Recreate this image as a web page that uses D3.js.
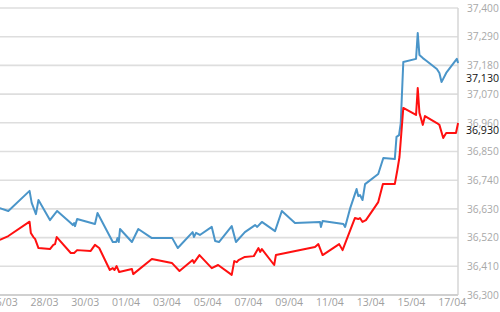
<!DOCTYPE html>
<html><head><meta charset="utf-8">
<script src="https://cdn.jsdelivr.net/npm/d3@7"></script>
<style>
html,body{margin:0;padding:0;background:#fff;}
svg{display:block;}
</style></head>
<body>
<svg id="chart" width="500" height="312"></svg>
<script>
// ---- data ----
const blueTimes = ["03-25 20:00","03-26 06:00","03-27 07:00","03-27 09:30","03-27 14:30","03-27 17:30","03-28 07:00","03-28 15:30","03-29 07:30","03-29 10:00","03-29 11:30","03-29 12:30","03-29 15:00","03-30 12:00","03-30 15:00","03-31 09:00","03-31 13:00","03-31 14:30","03-31 16:00","03-31 17:30","04-01 07:30","04-01 15:00","04-02 07:00","04-03 07:00","04-03 13:30","04-04 07:00","04-04 08:30","04-04 11:00","04-04 15:30","04-05 05:30","04-05 09:30","04-05 14:00","04-06 05:00","04-06 10:00","04-06 20:30","04-07 08:30","04-07 11:00","04-07 16:30","04-08 08:00","04-08 16:00","04-09 07:30","04-10 13:00","04-10 14:00","04-10 16:00","04-11 16:30","04-11 18:30","04-12 00:30","04-12 08:00","04-12 10:00","04-12 12:00","04-12 15:00","04-12 18:00","04-13 09:30","04-13 15:30","04-14 05:00","04-14 07:00","04-14 10:00","04-14 12:00","04-14 15:00","04-15 06:00","04-15 08:00","04-15 10:00","04-15 14:00","04-15 18:30","04-16 06:30","04-16 09:30","04-16 12:00","04-16 17:30","04-17 06:00","04-17 07:30"];
const blueValues = [36633,36622,36699,36653,36610,36664,36587,36622,36576,36568,36576,36564,36591,36572,36614,36503,36503,36518,36503,36553,36503,36553,36518,36518,36480,36541,36522,36538,36530,36561,36507,36503,36564,36503,36541,36568,36561,36580,36545,36622,36576,36580,36561,36584,36572,36561,36633,36706,36679,36683,36664,36725,36764,36825,36821,36906,36913,36959,37193,37205,37304,37220,37208,37197,37166,37151,37116,37151,37205,37189];

const redTimes = ["03-25 20:00","03-26 06:00","03-27 07:00","03-27 08:30","03-27 11:30","03-27 13:30","03-27 17:30","03-28 07:00","03-28 11:00","03-28 13:00","03-28 15:00","03-29 07:30","03-29 11:30","03-29 15:00","03-30 07:00","03-30 12:00","03-30 17:00","03-31 05:30","03-31 09:00","03-31 11:00","03-31 13:30","03-31 16:30","04-01 07:30","04-01 09:00","04-02 07:00","04-03 06:30","04-03 15:30","04-04 07:00","04-04 08:30","04-04 15:00","04-05 05:30","04-05 13:00","04-06 05:00","04-06 08:00","04-06 11:00","04-06 13:00","04-06 20:30","04-07 07:00","04-07 12:30","04-07 14:30","04-07 16:30","04-08 07:00","04-08 09:00","04-10 07:00","04-10 11:00","04-10 16:00","04-11 11:30","04-11 15:30","04-12 06:00","04-12 10:00","04-12 12:00","04-12 15:00","04-12 19:00","04-13 05:30","04-13 09:30","04-13 15:00","04-14 05:00","04-14 08:00","04-14 10:30","04-14 15:00","04-15 06:00","04-15 08:00","04-15 10:00","04-15 14:00","04-15 16:30","04-16 06:30","04-16 09:30","04-16 14:00","04-16 17:30","04-17 05:00","04-17 07:30"];
const redValues = [36511,36526,36581,36538,36522,36515,36480,36476,36492,36495,36522,36461,36461,36472,36469,36492,36480,36396,36403,36396,36411,36388,36400,36380,36438,36423,36392,36434,36423,36453,36403,36415,36377,36430,36426,36434,36446,36449,36480,36465,36476,36415,36453,36484,36495,36453,36495,36472,36595,36591,36595,36580,36587,36637,36656,36725,36725,36779,36829,37017,36990,37093,36998,36952,36986,36959,36952,36902,36921,36921,36959];

const yTickValues = [36300,36410,36520,36630,36740,36850,36960,37070,37180,37290,37400];
const xTickLabels = ["26/03","28/03","30/03","01/04","03/04","05/04","07/04","09/04","11/04","13/04","15/04","17/04"];
const lastLabels = [37130, 36930];
const year = 2024;

// ---- chart ----
const plot = {left: 0, right: 458, top: 8, bottom: 295};
const parse = d3.timeParse("%Y-%m-%d %H:%M");
const parseDay = d3.timeParse("%Y-%d/%m");
const toDate = s => parse(year + "-" + s);

const blue = blueTimes.map((t, i) => ({t: toDate(t), v: blueValues[i]}));
const red = redTimes.map((t, i) => ({t: toDate(t), v: redValues[i]}));

const x = d3.scaleTime()
  .domain([toDate("03-25 20:12"), toDate("04-17 07:24")])
  .range([plot.left, plot.right]);
const y = d3.scaleLinear()
  .domain([yTickValues[0], yTickValues[yTickValues.length - 1]])
  .range([plot.bottom, plot.top]);

const svg = d3.select("#chart");
const fmt = d3.format(",");

// grid lines
svg.append("g").selectAll("line").data(yTickValues.slice(1)).join("line")
  .attr("x1", plot.left).attr("x2", plot.right)
  .attr("y1", d => y(d)).attr("y2", d => y(d))
  .attr("stroke", "#dedede").attr("stroke-width", 1.6);

// right border and bottom axis line
svg.append("line").attr("x1", plot.right).attr("x2", plot.right)
  .attr("y1", plot.top).attr("y2", plot.bottom)
  .attr("stroke", "#d6d6d6").attr("stroke-width", 1.5);
svg.append("line").attr("x1", plot.left).attr("x2", plot.right)
  .attr("y1", plot.bottom).attr("y2", plot.bottom)
  .attr("stroke", "#d0d0d0").attr("stroke-width", 2);

// y tick labels (right)
const yAxis = d3.axisRight(y).tickValues(yTickValues).tickFormat(fmt).tickSize(0).tickPadding(0);
const gy = svg.append("g").attr("transform", `translate(${plot.right + 9},0)`).call(yAxis);
gy.select(".domain").remove();
gy.selectAll("text").attr("fill", "#a8a8a8").attr("font-family", "'Open Sans', sans-serif").attr("font-size", 10.2);

// x tick labels
const xDates = xTickLabels.map(s => parseDay(year + "-" + s));
const xAxis = d3.axisBottom(x).tickValues(xDates).tickFormat(d3.timeFormat("%d/%m")).tickSize(0).tickPadding(0);
const gx = svg.append("g").attr("transform", `translate(0,${plot.bottom + 11})`).call(xAxis);
gx.select(".domain").remove();
gx.selectAll("text").attr("fill", "#a0a0a0").attr("font-family", "'Open Sans', sans-serif").attr("font-size", 10.5).attr("dy", "0");

// clip
svg.append("clipPath").attr("id", "clip").append("rect")
  .attr("x", plot.left).attr("y", 0).attr("width", plot.right - plot.left + 1).attr("height", plot.bottom);

const line = d3.line().x(d => x(d.t)).y(d => y(d.v));
const lines = svg.append("g").attr("clip-path", "url(#clip)");
lines.append("path").datum(blue).attr("d", line)
  .attr("fill", "none").attr("stroke", "#4a95c9").attr("stroke-width", 2).attr("stroke-linejoin", "round");
lines.append("path").datum(red).attr("d", line)
  .attr("fill", "none").attr("stroke", "#ff1010").attr("stroke-width", 2).attr("stroke-linejoin", "round");

// last-value labels
svg.append("g").selectAll("text").data(lastLabels).join("text")
  .attr("x", plot.right + 8).attr("y", d => y(d)).attr("dy", "0.35em")
  .attr("fill", "#111").attr("font-family", "'Open Sans', sans-serif").attr("font-size", 10.6)
  .text(d => fmt(d));
</script>
</body></html>
